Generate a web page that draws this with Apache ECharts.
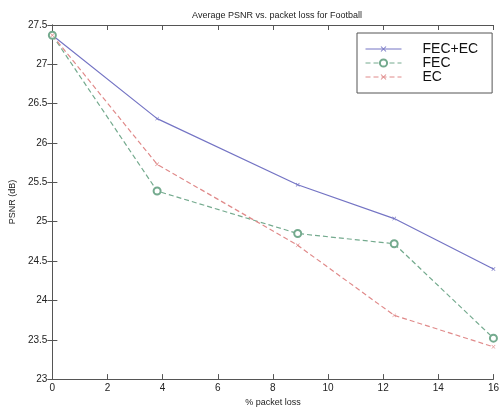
<!DOCTYPE html>
<html>
<head>
<meta charset="utf-8">
<script src="https://cdn.jsdelivr.net/npm/echarts@6/dist/echarts.min.js"></script>
<style>
  html, body { margin: 0; padding: 0; background: #fff; }
  #chart { width: 502px; height: 412px; }
</style>
</head>
<body>
<div id="chart"></div>
<script>
// % packet loss
var loss = [0, 3.8, 8.9, 12.4, 16];
// average PSNR (dB)
var fecEc = [27.37, 26.31, 25.47, 25.04, 24.4];
var fec = [27.37, 25.39, 24.85, 24.72, 23.52];
var ec = [27.37, 25.73, 24.7, 23.81, 23.41];

function pairs(ys) {
    return loss.map(function (x, i) { return [x, ys[i]]; });
}

var crossPath = 'path://M0,4.4H10V5.6H0Z M4.4,0H5.6V10H4.4Z';
var font = 'Liberation Sans, Arial, sans-serif';

var chart = echarts.init(document.getElementById('chart'));
var boxAxis = {
    axisLine: { lineStyle: { color: '#555', width: 1 } },
    axisTick: { inside: true, length: 5, lineStyle: { color: '#555' } },
    splitLine: { show: false }
};

chart.setOption({
    animation: false,
    backgroundColor: '#fff',
    title: {
        text: 'Average PSNR vs. packet loss for Football',
        left: 272, top: 6, textAlign: 'center',
        textStyle: { fontSize: 9, fontWeight: 'normal', color: '#222', fontFamily: font }
    },
    grid: { left: 45, right: 4, top: 25, bottom: 28 },
    legend: {
        orient: 'vertical',
        left: 357, top: 33,
        padding: [9, 14, 9, 8],
        itemGap: 0,
        itemWidth: 36, itemHeight: 9,
        borderColor: '#555', borderWidth: 1,
        backgroundColor: '#fff',
        lineStyle: { width: 1 },
        textStyle: { fontSize: 14, lineHeight: 14, color: '#111', fontFamily: font, padding: [0, 0, 0, 16] },
        data: ['FEC+EC', 'FEC', 'EC']
    },
    xAxis: [
        Object.assign({
            type: 'value', min: 0, max: 16, interval: 2,
            name: '% packet loss', nameLocation: 'middle', nameGap: 16,
            nameTextStyle: { fontSize: 9, color: '#222', fontFamily: font },
            axisLabel: { fontSize: 10, color: '#222', margin: 4, fontFamily: font }
        }, boxAxis),
        Object.assign({
            type: 'value', min: 0, max: 16, interval: 2, position: 'top',
            axisLabel: { show: false }
        }, boxAxis)
    ],
    yAxis: [
        Object.assign({
            type: 'value', min: 23, max: 27.5, interval: 0.5,
            name: 'PSNR (dB)', nameLocation: 'middle', nameGap: 32,
            nameTextStyle: { fontSize: 9, color: '#222', fontFamily: font },
            axisLabel: { fontSize: 10, color: '#222', margin: 5, fontFamily: font }
        }, boxAxis),
        Object.assign({
            type: 'value', min: 23, max: 27.5, interval: 0.5, position: 'right',
            axisLabel: { show: false }
        }, boxAxis)
    ],
    series: [
        {
            name: 'FEC+EC', type: 'line', data: pairs(fecEc),
            symbol: crossPath, symbolSize: 5, symbolRotate: 45,
            lineStyle: { color: '#7474c4', width: 1.2, type: 'solid' },
            itemStyle: { color: '#7474c4' }
        },
        {
            name: 'FEC', type: 'line', data: pairs(fec),
            symbol: 'emptyCircle', symbolSize: 7,
            lineStyle: { color: '#74aa8e', width: 1.2, type: [5, 3] },
            itemStyle: { color: '#74aa8e', borderWidth: 1 }
        },
        {
            name: 'EC', type: 'line', data: pairs(ec),
            symbol: crossPath, symbolSize: 5, symbolRotate: 45,
            lineStyle: { color: '#e08a8a', width: 1.2, type: [5, 3] },
            itemStyle: { color: '#e08a8a' }
        }
    ]
});
</script>
</body>
</html>
